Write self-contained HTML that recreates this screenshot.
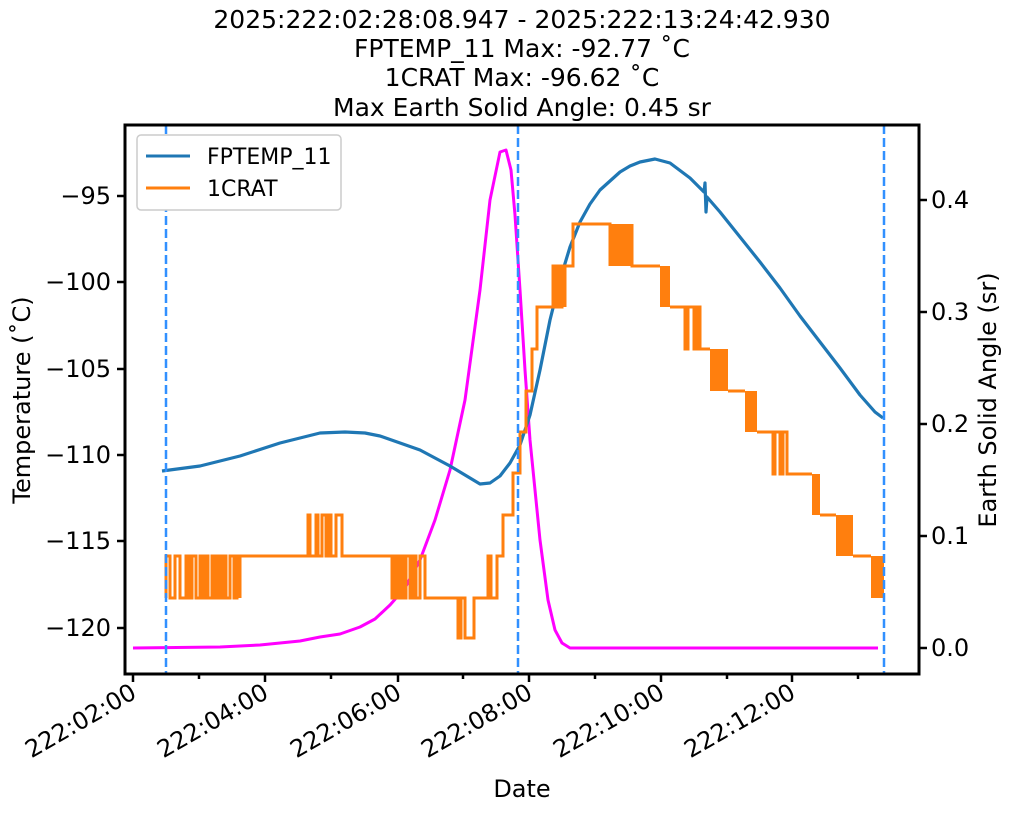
<!DOCTYPE html>
<html><head><meta charset="utf-8"><style>body{margin:0;background:#fff}</style></head><body>
<svg width="1011" height="811" xmlns="http://www.w3.org/2000/svg" font-family="DejaVu Sans, Liberation Sans, sans-serif">
<rect width="1011" height="811" fill="#fff"/>
<g font-size="25" text-anchor="middle" fill="#000">
<text x="522" y="28">2025:222:02:28:08.947 - 2025:222:13:24:42.930</text>
<text x="522" y="57">FPTEMP_11 Max: -92.77 ˚C</text>
<text x="522" y="86">1CRAT Max: -96.62 ˚C</text>
<text x="522" y="116">Max Earth Solid Angle: 0.45 sr</text>
</g>
<polyline fill="none" stroke="#ff00ff" stroke-width="3" stroke-linejoin="round" points="133,648 220,647 260,645 300,641 320,637 340,634 360,627 375,619 390,605 405,588 420,560 435,520 450,470 465,400 480,290 490,200 500,152 506,150 511,170 515,215 520,290 525,370 530,440 540,540 548,600 555,630 562,643 570,648 878,648"/>
<polyline fill="none" stroke="#1f77b4" stroke-width="3.2" stroke-linejoin="round" points="162,471 200,466 240,456 280,443 320,433 345,432 365,433 380,436 420,450 450,466 470,478 480,484 490,483 500,476 510,463 520,445 530,415 540,370 550,320 560,280 570,247 580,222 590,204 600,190 620,172 630,166 640,162 655,159 670,163 690,178 704,192 705,183 706,212 707,197 720,212 740,237 760,262 780,288 800,316 820,342 840,368 860,395 875,412 883,418"/>
<g stroke="#ff7f0e" stroke-width="3" fill="none">
<polyline points="166,598 166,556 170,556 170,598 175,598 175,556 180,556 180,598 186,598 186,556 189,556 189,598 192,598 192,556 196,556 196,598 200,598 200,556 203,556 203,598 205,598 205,556 208,556 208,598 212,598 212,556 214,556 214,598 217,598 217,556 220,556 220,598 223,598 223,556 226,556 226,598 230,598 230,556 234,556 234,598 237,598 237,556 240,556 240,598 240,556 308,556 308,515 310,515 310,556 316,556 316,515 318,515 318,556 322,556 322,515 326,515 326,556 328,556 328,515 331,515 331,556 336,556 336,515 342,515 342,556 392,556 392,598 395,598 395,556 397,556 397,598 400,598 400,556 403,556 403,598 406,598 406,556 410,556 410,598 413,598 413,556 416,556 416,598 420,598 420,556 425,556 425,598 425,598 458,598 458,638 461,638 461,598 465,598 465,638 474,638 474,598 488,598 488,556 491,556 491,598 497,598 497,556 500,556 503,556 503,515 513,515 513,473 520,473 520,432 526,432 526,391 532,391 532,349 537,349 537,307 553,307 553,266 556,266 556,307 558,307 558,266 560,266 560,307 562,307 562,266 565,266 565,307 565,266 573,266 573,224 610,224 610,266"/>
<rect x="610" y="224" width="22" height="42" fill="#ff7f0e" stroke="none"/>
<polyline points="632,224 632,266 660,266"/>
<rect x="660" y="266" width="10" height="41" fill="#ff7f0e" stroke="none"/>
<polyline points="670,307 685,307 685,349 688,349 688,307 694,307 694,349 697,349 697,307 700,307 700,349 710,349"/>
<rect x="710" y="349" width="18" height="42" fill="#ff7f0e" stroke="none"/>
<polyline points="728,391 745,391"/>
<rect x="745" y="391" width="12" height="41" fill="#ff7f0e" stroke="none"/>
<polyline points="757,432 773,432 773,474 775,474 775,432 780,432 780,474 783,474 783,432 787,432 787,474 812,474"/>
<rect x="812" y="474" width="8" height="41" fill="#ff7f0e" stroke="none"/>
<polyline points="820,515 836,515"/>
<rect x="836" y="515" width="17" height="41" fill="#ff7f0e" stroke="none"/>
<polyline points="853,556 871,556"/>
<rect x="871" y="556" width="13" height="42" fill="#ff7f0e" stroke="none"/>
</g>
<g stroke="#3190ff" stroke-width="2.5" stroke-dasharray="9,4">
<line x1="166" y1="125" x2="166" y2="674"/><line x1="518" y1="125" x2="518" y2="674"/><line x1="884" y1="125" x2="884" y2="674"/>
</g>
<rect x="125" y="125" width="794" height="549" fill="none" stroke="#000" stroke-width="3"/>
<g stroke="#000" stroke-width="2.5">
<line x1="117" y1="196" x2="125" y2="196"/><line x1="117" y1="282" x2="125" y2="282"/><line x1="117" y1="369" x2="125" y2="369"/><line x1="117" y1="455" x2="125" y2="455"/><line x1="117" y1="541" x2="125" y2="541"/><line x1="117" y1="628" x2="125" y2="628"/>
<line x1="919" y1="200" x2="927" y2="200"/><line x1="919" y1="312" x2="927" y2="312"/><line x1="919" y1="424" x2="927" y2="424"/><line x1="919" y1="536" x2="927" y2="536"/><line x1="919" y1="648" x2="927" y2="648"/>
<line x1="133" y1="674" x2="133" y2="682"/><line x1="265" y1="674" x2="265" y2="682"/><line x1="398" y1="674" x2="398" y2="682"/><line x1="529" y1="674" x2="529" y2="682"/><line x1="661" y1="674" x2="661" y2="682"/><line x1="792" y1="674" x2="792" y2="682"/>
<line x1="199" y1="674" x2="199" y2="679"/><line x1="331" y1="674" x2="331" y2="679"/><line x1="463" y1="674" x2="463" y2="679"/><line x1="595" y1="674" x2="595" y2="679"/><line x1="727" y1="674" x2="727" y2="679"/><line x1="858" y1="674" x2="858" y2="679"/>
</g>
<g font-size="24" text-anchor="end">
<text x="111" y="204">−95</text><text x="111" y="290">−100</text><text x="111" y="377">−105</text><text x="111" y="463">−110</text><text x="111" y="549">−115</text><text x="111" y="636">−120</text>
</g>
<g font-size="24">
<text x="931" y="208">0.4</text><text x="931" y="320">0.3</text><text x="931" y="432">0.2</text><text x="931" y="544">0.1</text><text x="931" y="656">0.0</text>
</g>
<g font-size="24" text-anchor="end">
<text transform="translate(138,697) rotate(-30)">222:02:00</text>
<text transform="translate(270,697) rotate(-30)">222:04:00</text>
<text transform="translate(403,697) rotate(-30)">222:06:00</text>
<text transform="translate(534,697) rotate(-30)">222:08:00</text>
<text transform="translate(666,697) rotate(-30)">222:10:00</text>
<text transform="translate(797,697) rotate(-30)">222:12:00</text>
</g>
<text x="522" y="797" font-size="24" text-anchor="middle">Date</text>
<text transform="translate(30,400) rotate(-90)" font-size="24" text-anchor="middle">Temperature (˚C)</text>
<text transform="translate(996,400) rotate(-90)" font-size="24" text-anchor="middle">Earth Solid Angle (sr)</text>
<rect x="137" y="135" width="204" height="75" rx="4" fill="#fff" stroke="#ccc" stroke-width="1.5"/>
<line x1="146" y1="156" x2="190" y2="156" stroke="#1f77b4" stroke-width="3"/>
<line x1="146" y1="188" x2="190" y2="188" stroke="#ff7f0e" stroke-width="3"/>
<text x="207" y="164" font-size="22">FPTEMP_11</text>
<text x="207" y="196" font-size="22">1CRAT</text>
</svg>
</body></html>
